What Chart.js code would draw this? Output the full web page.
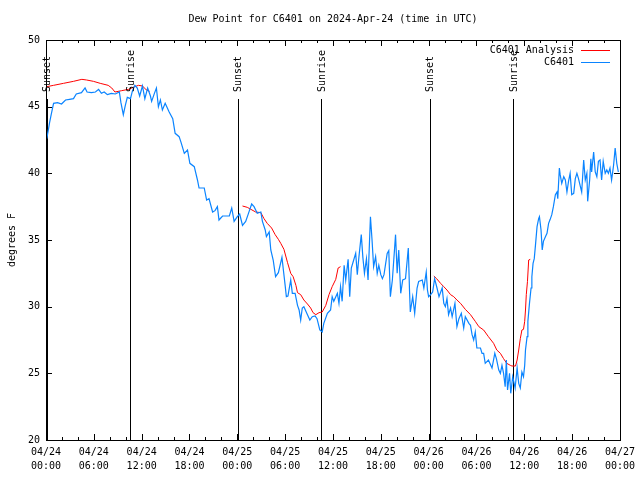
<!DOCTYPE html>
<head>
    <title>Dew Point</title>
    <meta charset="utf-8">
    <script src="https://cdn.jsdelivr.net/npm/chart.js"></script>
    <style>
        body { margin: 0; background: #fff; }
    </style>
</head>
<body>
    <canvas id="myChart" width="640" height="480"></canvas>
    <script>
        // hours since 04/24 00:00 UTC
        const titleText = 'Dew Point for C6401 on 2024-Apr-24 (time in UTC)';
        const yLabel = 'degrees F';
        const xTickDates = ['04/24','04/24','04/24','04/24','04/25','04/25','04/25','04/25','04/26','04/26','04/26','04/26','04/27'];
        const xTickTimes = ['00:00','06:00','12:00','18:00','00:00','06:00','12:00','18:00','00:00','06:00','12:00','18:00','00:00'];

        const eventHours = [0.1, 10.55, 24.05, 34.5, 48.15, 58.6];
        const eventLabels = ['Sunset', 'Sunrise', 'Sunset', 'Sunrise', 'Sunset', 'Sunrise'];

        const blueHours = [
            0.1,0.45,0.65,0.95,1.45,1.95,2.45,2.95,3.45,3.8,
            4.45,4.9,5.15,5.7,6.2,6.6,6.95,7.3,7.7,8.2,
            8.7,9.2,9.4,9.7,9.95,10.2,10.6,10.85,11.15,11.45,
            11.75,12.1,12.4,12.75,13.1,13.25,13.6,13.85,14.1,14.35,
            14.6,14.95,15.45,15.9,16.2,16.7,16.95,17.35,17.75,18.05,
            18.6,19.0,19.2,19.85,20.15,20.45,20.9,21.2,21.5,21.7,
            22.15,23.0,23.3,23.6,24.0,24.3,24.65,25.05,25.4,25.8,
            26.1,26.5,26.95,27.15,27.5,27.65,28.0,28.2,28.5,28.8,
            29.15,29.6,29.75,30.0,30.15,30.35,30.7,30.9,31.25,31.55,
            31.75,31.95,32.15,32.35,32.8,33.1,33.4,33.75,34.0,34.35,
            34.65,34.85,35.3,35.7,35.9,36.1,36.55,36.75,36.95,37.15,
            37.4,37.6,37.9,38.1,38.3,38.6,38.85,39.05,39.25,39.55,
            39.75,39.95,40.2,40.4,40.7,40.9,41.1,41.35,41.55,41.75,
            42.0,42.2,42.4,42.8,43.0,43.2,43.45,43.85,44.05,44.25,
            44.5,44.75,45.1,45.45,45.6,45.7,46.0,46.25,46.55,46.75,
            47.2,47.4,47.7,47.85,48.0,48.25,48.5,48.75,49.05,49.3,
            49.7,49.9,50.1,50.3,50.5,50.75,50.95,51.3,51.55,51.8,
            52.1,52.4,52.6,53.05,53.25,53.45,53.65,53.85,54.05,54.5,
            54.7,54.9,55.1,55.5,55.95,56.3,56.5,56.8,57.0,57.2,
            57.4,57.6,57.75,57.9,58.15,58.3,58.55,58.85,59.1,59.3,
            59.5,59.7,59.9,60.05,60.15,60.35,60.45,60.65,60.85,60.95,
            61.1,61.25,61.4,61.6,61.8,61.9,62.1,62.25,62.4,62.65,
            62.85,63.05,63.25,63.45,63.65,63.9,64.1,64.2,64.4,64.5,
            64.7,64.95,65.15,65.35,65.55,65.75,65.95,66.2,66.4,66.6,
            66.8,67.0,67.2,67.45,67.65,67.85,67.95,68.2,68.35,68.45,
            68.7,68.9,69.1,69.3,69.5,69.7,69.9,70.15,70.35,70.55,
            70.75,70.95,71.2,71.4,71.6,71.8
        ];
        const blueValues = [
            42.6,43.8,44.4,45.25,45.3,45.2,45.5,45.55,45.6,45.95,
            46.05,46.4,46.1,46.05,46.1,46.3,46.0,46.1,45.9,46.0,
            45.95,46.1,45.3,44.4,45.1,45.7,45.6,46.2,46.6,46.4,
            45.8,46.55,45.6,46.4,45.8,45.4,46.0,46.4,45.0,45.5,
            44.75,45.25,44.6,44.1,43.0,42.75,42.3,41.5,41.75,40.75,
            40.5,39.5,38.9,38.9,38.0,38.1,37.1,37.2,37.5,36.5,
            36.8,36.8,37.4,36.4,36.75,36.95,36.1,36.4,37.0,37.7,
            37.5,37.0,37.1,36.4,35.75,35.25,35.6,34.25,33.5,32.25,
            32.55,33.7,32.9,31.6,30.75,30.8,32.0,31.0,31.0,30.1,
            29.75,29.0,29.9,30.0,29.4,29.0,29.25,29.3,29.1,28.25,
            28.1,28.75,29.5,29.75,30.75,30.4,31.0,30.25,31.5,30.4,
            33.1,32.0,33.55,30.75,32.9,33.5,34.0,32.4,33.7,35.4,
            33.7,32.5,33.6,32.0,36.75,35.0,33.0,33.75,32.5,33.1,
            32.4,32.1,32.4,34.0,34.2,30.75,32.0,35.4,32.5,34.25,
            31.0,32.0,32.1,34.4,31.25,29.6,30.75,29.5,31.4,31.9,
            32.0,31.4,32.6,31.25,30.75,30.9,31.1,32.1,31.4,30.75,
            31.4,30.25,30.0,30.6,29.4,29.9,29.25,30.25,28.5,29.1,
            29.5,28.4,29.25,28.75,28.6,27.9,27.5,28.1,26.9,26.9,
            26.5,26.5,25.75,26.0,25.4,26.5,26.1,25.25,25.0,25.6,
            25.0,24.0,26.0,23.75,25.0,23.5,24.75,23.9,25.4,24.25,
            23.9,25.1,24.75,25.6,26.75,27.75,28.9,30.25,31.4,32.25,
            33.25,33.6,34.6,36.0,36.6,36.75,35.75,34.25,34.9,35.25,
            35.5,36.25,36.55,36.9,37.5,38.4,38.6,38.1,40.4,39.9,
            39.25,39.75,39.5,38.6,39.4,40.0,38.4,38.5,39.6,40.0,
            39.6,39.1,38.6,41.0,39.5,40.0,37.9,39.5,41.1,40.1,
            41.6,40.1,39.75,40.9,41.0,39.5,40.9,40.0,40.25,40.0,
            40.4,39.5,40.6,41.9,40.75,40.1
        ];

        // analysis, null = gap
        const redHours = [
            0.1,0.95,2.2,3.45,4.5,5.1,5.95,6.8,7.8,8.25,
            8.65,9.5,10.35,11.15,11.6,12.1,12.6,13.0,13.5,
            24.65,25.25,25.7,26.3,26.95,27.35,27.75,28.3,28.75,29.15,
            29.45,29.85,30.3,30.7,31.0,31.35,31.55,31.95,32.35,32.8,
            33.2,33.5,33.85,34.25,34.65,35.1,35.5,35.9,36.35,36.65,
            36.95,37.5,
            48.65,49.0,49.5,49.9,50.3,50.75,51.15,51.55,52.0,52.6,
            53.25,53.85,54.3,54.9,55.5,56.15,56.55,57.0,57.4,57.8,
            58.25,58.45,58.9,59.1,59.3,59.5,59.7,59.9,60.05,60.15,
            60.25,60.4,60.55,60.75
        ];
        const redValues = [
            46.5,46.6,46.75,46.9,47.05,47.0,46.9,46.75,46.6,46.4,
            46.1,46.2,46.3,46.5,46.6,46.55,46.25,46.15,null,
            37.55,37.45,37.3,37.1,37.05,36.6,36.25,35.9,35.4,35.05,
            34.75,34.3,33.3,32.5,32.25,31.6,31.05,30.9,30.5,30.2,
            29.9,29.55,29.4,29.55,29.6,30.1,30.9,31.5,32.05,32.9,
            33.0,null,
            32.3,32.1,31.75,31.5,31.25,30.9,30.75,30.5,30.25,29.8,
            29.4,28.9,28.5,28.25,27.75,27.25,26.75,26.5,26.1,25.75,
            25.6,25.55,25.55,26.0,26.75,27.6,28.25,28.3,28.9,29.75,
            30.9,31.9,33.5,33.55
        ];

        function toPoints(xs, ys) {
            return xs.map((x, i) => ({ x: x, y: ys[i] }));
        }

        const FONT = '"DejaVu Sans Mono", monospace';

        const decor = {
            id: 'decor',
            beforeDatasetsDraw(chart) {
                const ctx = chart.ctx;
                const xs = chart.scales.x;
                const a = chart.chartArea;
                ctx.save();
                ctx.strokeStyle = '#000';
                ctx.lineWidth = 1;
                for (let i = 0; i < eventHours.length; i++) {
                    const px = Math.round(xs.getPixelForValue(eventHours[i])) + 0.5;
                    ctx.beginPath();
                    ctx.moveTo(px, 99);
                    ctx.lineTo(px, a.bottom);
                    ctx.stroke();
                }
                ctx.restore();
            },
            afterDatasetsDraw(chart) {
                const ctx = chart.ctx;
                const xs = chart.scales.x;
                const ys = chart.scales.y;
                const a = chart.chartArea;
                ctx.save();
                ctx.strokeStyle = '#000';
                ctx.fillStyle = '#000';
                ctx.lineWidth = 1;
                // box
                ctx.strokeRect(Math.round(a.left) + 0.5, Math.round(a.top) + 0.5,
                    Math.round(a.right - a.left), Math.round(a.bottom - a.top));
                // x ticks (inward, mirrored)
                ctx.beginPath();
                for (let h = 0; h <= 72; h += 2) {
                    const px = Math.round(xs.getPixelForValue(h)) + 0.5;
                    const len = h % 6 === 0 ? 6 : 3;
                    ctx.moveTo(px, a.bottom); ctx.lineTo(px, a.bottom - len);
                    ctx.moveTo(px, a.top); ctx.lineTo(px, a.top + len);
                }
                for (let v = 20; v <= 50; v += 5) {
                    const py = Math.round(ys.getPixelForValue(v)) + 0.5;
                    ctx.moveTo(a.left, py); ctx.lineTo(a.left + 6, py);
                    ctx.moveTo(a.right, py); ctx.lineTo(a.right - 6, py);
                }
                ctx.stroke();

                ctx.font = '10px ' + FONT;
                // title
                ctx.textAlign = 'center';
                ctx.textBaseline = 'middle';
                ctx.fillText(titleText, (a.left + a.right) / 2, 19);

                // event labels
                for (let i = 0; i < eventHours.length; i++) {
                    const px = xs.getPixelForValue(eventHours[i]);
                    ctx.save();
                    ctx.translate(px + 1, 92);
                    ctx.rotate(-Math.PI / 2);
                    ctx.textAlign = 'left';
                    ctx.textBaseline = 'middle';
                    ctx.fillText(eventLabels[i], 0, 0);
                    ctx.restore();
                }

                // legend
                const ds = chart.data.datasets;
                const rows = [ds[1], ds[0]];
                ctx.textAlign = 'right';
                rows.forEach((d, i) => {
                    const y = 50 + i * 12;
                    ctx.fillStyle = '#000';
                    ctx.fillText(d.label, 574, y);
                    ctx.strokeStyle = d.borderColor;
                    ctx.beginPath();
                    ctx.moveTo(581, y + 0.5);
                    ctx.lineTo(610, y + 0.5);
                    ctx.stroke();
                });
                ctx.restore();
            }
        };

        const ctx = document.getElementById('myChart');
        new Chart(ctx, {
            type: 'line',
            data: {
                datasets: [{
                    label: 'C6401',
                    data: toPoints(blueHours, blueValues),
                    borderColor: '#0a84ff',
                    borderWidth: 1.2,
                    pointRadius: 0,
                    tension: 0,
                    order: 0
                }, {
                    label: 'C6401 Analysis',
                    data: toPoints(redHours, redValues),
                    borderColor: '#ff0000',
                    borderWidth: 1,
                    pointRadius: 0,
                    tension: 0,
                    spanGaps: false,
                    order: 1
                }]
            },
            options: {
                responsive: false,
                animation: false,
                layout: { padding: { left: 0, top: 40, right: 19, bottom: 0 } },
                plugins: {
                    legend: { display: false },
                    title: { display: false },
                    tooltip: { enabled: false }
                },
                scales: {
                    x: {
                        type: 'linear',
                        min: 0,
                        max: 72,
                        grid: { display: false, drawTicks: false },
                        border: { display: false },
                        ticks: {
                            stepSize: 6,
                            autoSkip: false,
                            maxRotation: 0,
                            padding: 5,
                            color: '#000',
                            font: { family: FONT, size: 10, lineHeight: 1.4 },
                            callback: (v) => {
                                const i = Math.round(v / 6);
                                return [xTickDates[i], xTickTimes[i]];
                            }
                        },
                        afterFit: (s) => { s.height = 40; }
                    },
                    y: {
                        min: 20,
                        max: 50,
                        grid: { display: false, drawTicks: false },
                        border: { display: false },
                        ticks: {
                            stepSize: 5,
                            padding: 6,
                            color: '#000',
                            font: { family: FONT, size: 10 }
                        },
                        title: {
                            display: true,
                            text: yLabel,
                            color: '#000',
                            font: { family: FONT, size: 10 },
                            padding: { top: 6, bottom: 0 }
                        },
                        afterFit: (s) => { s.width = 46; }
                    }
                }
            },
            plugins: [decor]
        });
    </script>
</body>
</html>
